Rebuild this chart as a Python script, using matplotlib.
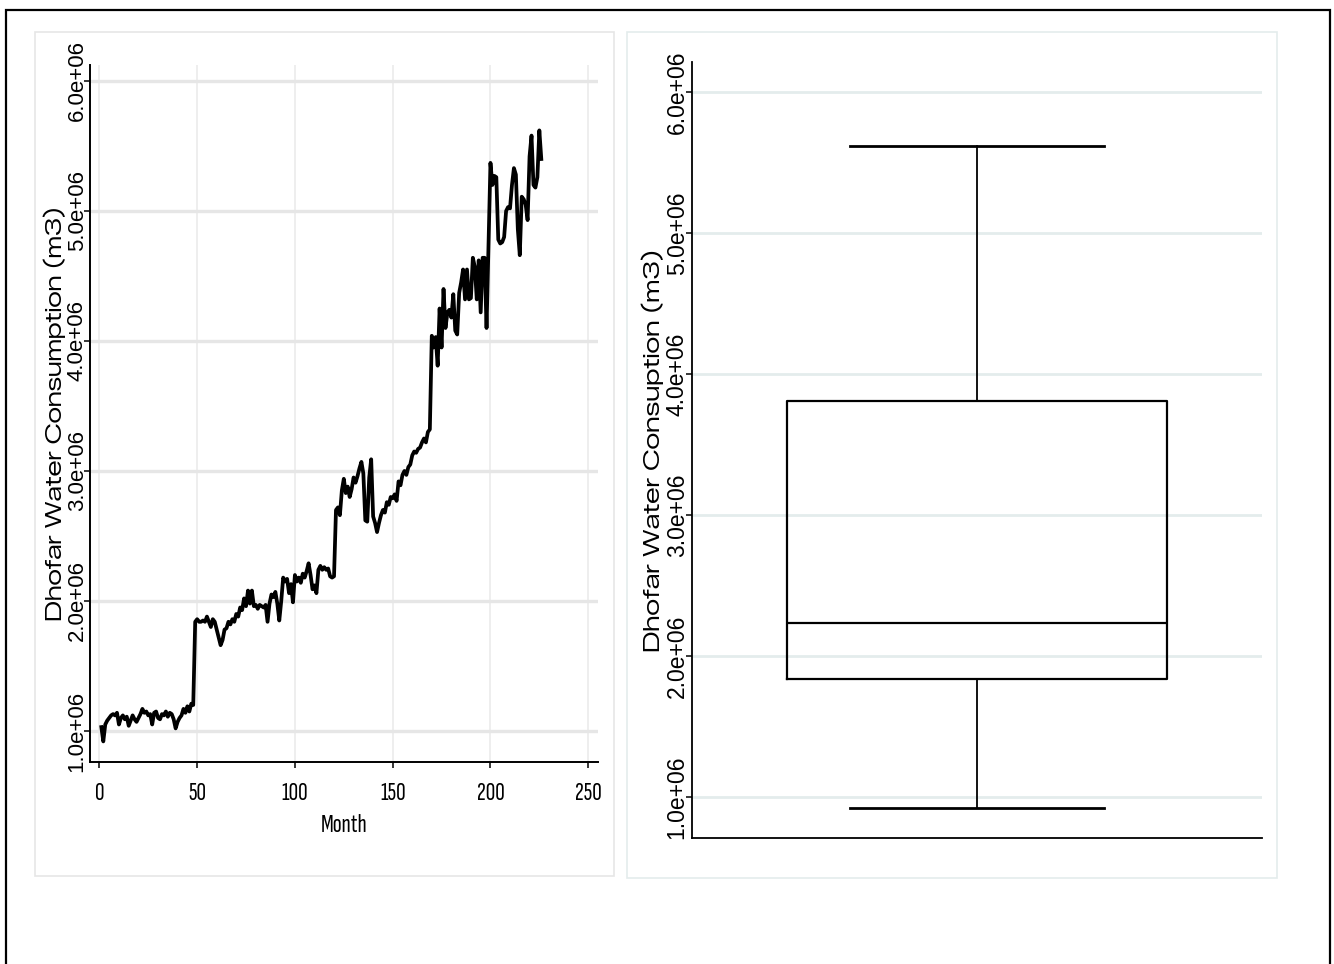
import numpy as np
import matplotlib
matplotlib.use("Agg")
import matplotlib.pyplot as plt
from matplotlib.ticker import FuncFormatter
from matplotlib.patches import Rectangle

# Monthly water consumption in Dhofar, million m3 (months 1..226)
consumption_mm3 = [
    1.03, 0.92, 1.05, 1.08, 1.10, 1.12, 1.13, 1.12, 1.14, 1.05,
    1.10, 1.12, 1.09, 1.11, 1.04, 1.08, 1.12, 1.09, 1.07, 1.10,
    1.13, 1.17, 1.14, 1.15, 1.12, 1.13, 1.05, 1.14, 1.15, 1.10,
    1.09, 1.13, 1.12, 1.15, 1.11, 1.14, 1.13, 1.09, 1.02, 1.07,
    1.10, 1.12, 1.17, 1.14, 1.19, 1.15, 1.21, 1.20, 1.84, 1.86,
    1.84, 1.84, 1.85, 1.84, 1.88, 1.84, 1.80, 1.86, 1.84, 1.78,
    1.72, 1.66, 1.70, 1.78, 1.79, 1.84, 1.82, 1.86, 1.84, 1.90,
    1.88, 1.95, 1.93, 2.02, 1.96, 2.08, 1.98, 2.08, 1.96, 1.97,
    1.94, 1.97, 1.96, 1.95, 1.97, 1.84, 1.98, 2.05, 2.03, 2.07,
    1.98, 1.85, 2.00, 2.18, 2.15, 2.17, 2.06, 2.13, 1.99, 2.20,
    2.15, 2.18, 2.14, 2.21, 2.18, 2.23, 2.29, 2.20, 2.09, 2.12,
    2.06, 2.24, 2.27, 2.24, 2.26, 2.24, 2.25, 2.19, 2.18, 2.19,
    2.70, 2.72, 2.66, 2.85, 2.94, 2.83, 2.88, 2.80, 2.86, 2.95,
    2.91, 2.96, 3.02, 3.07, 2.98, 2.62, 2.61, 2.95, 3.09, 2.65,
    2.60, 2.53, 2.60, 2.66, 2.70, 2.68, 2.76, 2.74, 2.80, 2.79,
    2.82, 2.77, 2.92, 2.89, 2.97, 3.00, 2.97, 3.03, 3.05, 3.12,
    3.15, 3.14, 3.17, 3.18, 3.22, 3.25, 3.22, 3.30, 3.32, 4.04,
    3.95, 4.03, 3.81, 4.25, 3.95, 4.40, 4.10, 4.22, 4.24, 4.18,
    4.36, 4.08, 4.05, 4.37, 4.45, 4.55, 4.32, 4.55, 4.32, 4.33,
    4.64, 4.57, 4.32, 4.62, 4.22, 4.64, 4.64, 4.10, 4.75, 5.37,
    5.20, 5.27, 5.26, 4.78, 4.75, 4.76, 4.80, 5.00, 5.03, 5.02,
    5.20, 5.33, 5.28, 4.86, 4.66, 5.11, 5.09, 5.05, 4.93, 5.42,
    5.58, 5.20, 5.18, 5.26, 5.62, 5.40,
]
consumption = np.array(consumption_mm3) * 1e6
month = np.arange(1, len(consumption) + 1)

x_ticks = [0, 50, 100, 150, 200, 250]
y_ticks = [1e6, 2e6, 3e6, 4e6, 5e6, 6e6]

W, H = 1334, 964
fig = plt.figure(figsize=(W / 100, H / 100), dpi=100)
fig.patch.set_facecolor("white")


def box(x0, y0, x1, y1):
    """Pixel box (top-left origin) to figure-fraction rect."""
    return [x0 / W, 1 - y1 / H, (x1 - x0) / W, (y1 - y0) / H]


sans = ["Liberation Sans", "DejaVu Sans"]
wide = ["Zalando Sans Expanded", "Liberation Sans", "DejaVu Sans"]
narrow = ["Sofia Sans Extra Condensed", "Saira Extra Condensed",
          "Roboto Condensed", "Archivo Narrow", "Liberation Sans"]

# outer border and panel frames
fig.add_artist(Rectangle((6 / W, -0.01), (1330 - 6) / W, 1.01 - 10 / H,
                         transform=fig.transFigure, fill=False,
                         edgecolor="black", lw=1.6))
fig.add_artist(Rectangle((35 / W, 1 - 876 / H), (614 - 35) / W, (876 - 32) / H,
                         transform=fig.transFigure, fill=False,
                         edgecolor="#e6e6e6", lw=1.2))
fig.add_artist(Rectangle((627 / W, 1 - 878 / H), (1277 - 627) / W, (878 - 32) / H,
                         transform=fig.transFigure, fill=False,
                         edgecolor="#e4ecec", lw=1.2))

sci = FuncFormatter(lambda v, p: f"{v:.1e}")


def vertical_ticklabels(ax, size):
    """Y tick labels read bottom-to-top, baseline next to the ticks."""
    for lab in ax.get_yticklabels():
        lab.set_rotation(90)
        lab.set_rotation_mode("anchor")
        lab.set_ha("center")
        lab.set_va("baseline")
        lab.set_fontfamily(sans)
        lab.set_fontsize(size)


# ---- time series panel ----
ax1 = fig.add_axes(box(90, 65, 598, 762))
ax1.plot(month, consumption, color="black", lw=2.7, solid_joinstyle="round")
ax1.set_xlim(-4.8, 255)
ax1.set_ylim(0.7615e6, 6.123e6)
ax1.set_xticks(x_ticks)
ax1.set_yticks(y_ticks)
ax1.yaxis.set_major_formatter(sci)
for s in ("top", "right"):
    ax1.spines[s].set_visible(False)
for s in ("left", "bottom"):
    ax1.spines[s].set_linewidth(1.4)
ax1.grid(axis="x", color="#ebebeb", lw=1.2)
ax1.grid(axis="y", color="#e6e6e6", lw=2.4)
ax1.set_axisbelow(True)
ax1.tick_params(axis="both", length=4.5, width=1.1, color="black")
ax1.tick_params(axis="x", pad=10)
ax1.tick_params(axis="y", pad=0.8)
vertical_ticklabels(ax1, 16)
for lab in ax1.get_xticklabels():
    lab.set_fontfamily(narrow)
    lab.set_fontsize(19)
ax1.set_xlabel("Month", family=narrow, fontsize=19)
ax1.xaxis.set_label_coords(0.5, (762 - 826) / (762 - 65))
ax1.xaxis.label.set_va("center")
ax1.set_ylabel("Dhofar Water Consumption (m3)", family=wide, fontsize=16.3)
ax1.yaxis.set_label_coords((62 - 90) / (598 - 90), 0.5)
ax1.yaxis.label.set_va("baseline")


# ---- box plot panel ----
def stata_pctile(values, p):
    v = np.sort(values)
    k = len(v) * p / 100.0
    if float(k).is_integer():
        k = int(k)
        return (v[k - 1] + v[k]) / 2
    return v[int(np.floor(k))]


q1 = stata_pctile(consumption, 25)
med = stata_pctile(consumption, 50)
q3 = stata_pctile(consumption, 75)
iqr = q3 - q1
lo = consumption[consumption >= q1 - 1.5 * iqr].min()
hi = consumption[consumption <= q3 + 1.5 * iqr].max()

ax2 = fig.add_axes(box(692, 62, 1262, 838))
ax2.bxp([{"med": med, "q1": q1, "q3": q3, "whislo": lo, "whishi": hi,
          "fliers": []}],
        positions=[0.5], widths=0.667, capwidths=0.447, showfliers=False,
        boxprops=dict(color="black", lw=1.6),
        medianprops=dict(color="black", lw=1.6),
        whiskerprops=dict(color="black", lw=1.3),
        capprops=dict(color="black", lw=2.0))
ax2.set_xlim(0, 1)
ax2.set_ylim(0.709e6, 6.213e6)
ax2.set_yticks(y_ticks)
ax2.yaxis.set_major_formatter(sci)
ax2.set_xticks([])
for s in ("top", "right"):
    ax2.spines[s].set_visible(False)
for s in ("left", "bottom"):
    ax2.spines[s].set_linewidth(1.3)
ax2.grid(axis="y", color="#e4ecec", lw=2.0)
ax2.set_axisbelow(True)
ax2.tick_params(axis="y", length=4.5, width=1.1, color="black", pad=1.5)
vertical_ticklabels(ax2, 16.5)
ax2.set_ylabel("Dhofar Water Consuption (m3)", family=wide, fontsize=16.7)
ax2.yaxis.set_label_coords((660 - 692) / (1262 - 692), 0.5)
ax2.yaxis.label.set_va("baseline")

fig.savefig("out.png", dpi=100)
